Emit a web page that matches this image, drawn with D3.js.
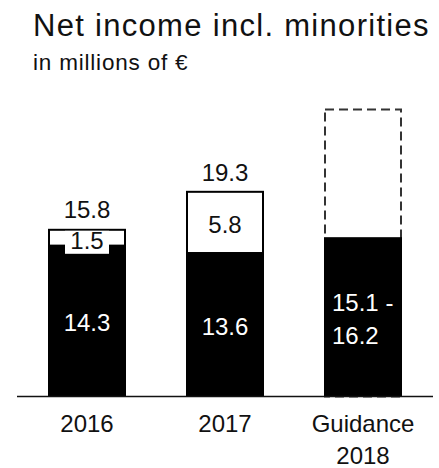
<!DOCTYPE html>
<html>
<head>
<meta charset="utf-8">
<script src="https://cdn.jsdelivr.net/npm/d3@7"></script>
<style>
  html, body { margin: 0; padding: 0; background: #fff; }
  svg { display: block; }
  text { font-family: "Liberation Sans", Arial, sans-serif; }
</style>
</head>
<body>
<svg id="chart" width="439" height="468"></svg>
<script>
// Net income incl. minorities, in millions of €
const categories = ["2016", "2017", "Guidance 2018"];
const baseValues = [14.3, 13.6, 15.1];          // black segment
const topValues = [1.5, 5.8, null];             // white outlined segment
const totals = [15.8, 19.3, null];              // label above the stack
const guidanceRange = ["15.1 -", "16.2"];       // label inside the guidance bar
const guidanceOutline = 27.2;                   // dashed placeholder height

const svg = d3.select("#chart");

const x = d3.scaleBand()
  .domain(categories)
  .range([18, 432])
  .paddingInner(0.4348)
  .paddingOuter(0.2174);

const y = d3.scaleLinear()
  .domain([0, 28.5])
  .range([396.5, 95.8]);

// title
svg.append("text")
  .attr("x", 33).attr("y", 36)
  .attr("font-size", 31)
  .attr("letter-spacing", 1.3)
  .attr("fill", "#111")
  .text("Net income incl. minorities");

svg.append("text")
  .attr("x", 33).attr("y", 70)
  .attr("font-size", 22.5)
  .attr("letter-spacing", 0.8)
  .attr("fill", "#111")
  .text("in millions of €");

const bw = x.bandwidth();

// dashed placeholder for the guidance year
svg.append("rect")
  .attr("x", x(categories[2]) + 1)
  .attr("y", y(guidanceOutline))
  .attr("width", bw - 2)
  .attr("height", y(0) - y(guidanceOutline))
  .attr("fill", "none")
  .attr("stroke", "#333")
  .attr("stroke-width", 2)
  .attr("stroke-dasharray", "9,5");

// white upper segments
categories.forEach((c, i) => {
  if (topValues[i] == null) return;
  const b = baseValues[i], t = b + topValues[i];
  svg.append("rect")
    .attr("x", x(c) + 1)
    .attr("y", y(t))
    .attr("width", bw - 2)
    .attr("height", y(b) - y(t))
    .attr("fill", "#fff")
    .attr("stroke", "#000")
    .attr("stroke-width", 2);
});

// black base segments
svg.selectAll("rect.base")
  .data(categories)
  .join("rect")
  .attr("class", "base")
  .attr("x", d => x(d))
  .attr("y", (d, i) => y(baseValues[i]))
  .attr("width", bw)
  .attr("height", (d, i) => y(0) - y(baseValues[i]))
  .attr("fill", "#000");

// baseline
svg.append("line")
  .attr("x1", 17).attr("x2", 433)
  .attr("y1", y(0)).attr("y2", y(0))
  .attr("stroke", "#111")
  .attr("stroke-width", 1.5);

// labels inside black segments
categories.forEach((c, i) => {
  const cx = x(c) + bw / 2;
  const mid = (y(0) + y(baseValues[i])) / 2;
  if (i < 2) {
    svg.append("text")
      .attr("x", cx).attr("y", mid + 2)
      .attr("dy", "0.35em")
      .attr("text-anchor", "middle")
      .attr("font-size", 24)
      .attr("fill", "#fff")
      .text(d3.format(".1f")(baseValues[i]));
  } else {
    guidanceRange.forEach((s, k) => {
      svg.append("text")
        .attr("x", x(c) + 8)
        .attr("y", mid - 14 + k * 33)
        .attr("dy", "0.35em")
        .attr("font-size", 24)
        .attr("fill", "#fff")
        .text(s);
    });
  }
});

// labels in the upper segments and totals
categories.forEach((c, i) => {
  if (topValues[i] == null) return;
  const cx = x(c) + bw / 2;
  const b = baseValues[i], t = b + topValues[i];
  const mid = (y(b) + y(t)) / 2;
  const small = y(b) - y(t) < 30;
  if (small) {
    // white plate behind the label of a thin segment
    svg.append("rect")
      .attr("x", cx - 22).attr("y", y(t) + 1)
      .attr("width", 44).attr("height", 23)
      .attr("fill", "#fff");
  }
  svg.append("text")
    .attr("x", cx).attr("y", small ? y(t) + 11 : mid + 2)
    .attr("dy", "0.35em")
    .attr("text-anchor", "middle")
    .attr("font-size", 24)
    .attr("fill", "#111")
    .text(d3.format(".1f")(topValues[i]));
  svg.append("text")
    .attr("x", cx).attr("y", y(totals[i]) - 12)
    .attr("text-anchor", "middle")
    .attr("font-size", 24)
    .attr("fill", "#111")
    .text(d3.format(".1f")(totals[i]));
});

// category labels
categories.forEach(c => {
  const cx = x(c) + bw / 2;
  const words = c === "Guidance 2018" ? ["Guidance", "2018"] : [c];
  words.forEach((w, k) => {
    svg.append("text")
      .attr("x", cx).attr("y", 432 + k * 32)
      .attr("text-anchor", "middle")
      .attr("font-size", 24)
      .attr("fill", "#111")
      .text(w);
  });
});
</script>
</body>
</html>
